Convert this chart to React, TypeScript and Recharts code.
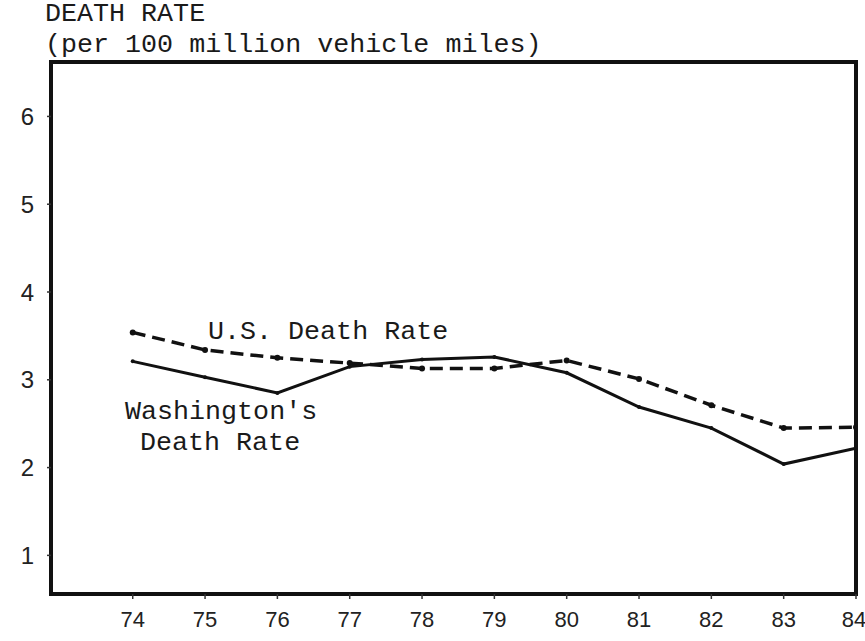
import React from "react"
import {
  LineChart,
  Line,
  XAxis,
  YAxis,
  ReferenceArea,
} from "recharts"

const years = [74, 75, 76, 77, 78, 79, 80, 81, 82, 83, 84]
const washingtonRate = [3.21, 3.03, 2.85, 3.15, 3.23, 3.26, 3.08, 2.69, 2.45, 2.04, 2.22]
const usRate = [3.54, 3.34, 3.25, 3.19, 3.13, 3.13, 3.22, 3.01, 2.71, 2.45, 2.46]
const yTicks = [1, 2, 3, 4, 5, 6]

const xMin = 72.87
const xMax = 84
const yMin = 0.56
const yMax = 6.62

const data = years.map((y, i) => ({
  year: y,
  wa: washingtonRate[i],
  us: usRate[i],
}))

const mono = "'Liberation Mono', 'DejaVu Sans Mono', monospace"
const sans = "'Liberation Sans', Arial, sans-serif"

// text block; lineHeight 30.5 puts the first baseline ~22px under the top
const note = (baseline: number, left: number): React.CSSProperties => ({
  position: "absolute",
  top: baseline - 22,
  left,
  fontFamily: mono,
  fontSize: 26.7,
  lineHeight: "30.5px",
  color: "#1a1a1a",
  whiteSpace: "nowrap",
})

export default function App() {
  return (
    <div style={{ position: "absolute", left: 0, top: 0, width: 865, height: 641, background: "#fff" }}>
      <LineChart
        width={865}
        height={641}
        data={data}
        margin={{ top: 62, right: 9, bottom: 0, left: 0 }}
      >
        <XAxis
          dataKey="year"
          type="number"
          domain={[xMin, xMax]}
          ticks={years}
          allowDataOverflow
          height={47}
          axisLine={false}
          tickLine={{ stroke: "#333", strokeWidth: 1.5 }}
          tickSize={5}
          tickMargin={12}
          tick={{ fontSize: 22, fill: "#222", fontFamily: sans }}
        />
        <YAxis
          type="number"
          domain={[yMin, yMax]}
          ticks={yTicks}
          allowDataOverflow
          width={51}
          axisLine={false}
          tickLine={{ stroke: "#333", strokeWidth: 1.5 }}
          tickSize={4}
          tickMargin={13}
          tick={{ fontSize: 24, fill: "#222", fontFamily: sans }}
        />
        <ReferenceArea
          x1={xMin}
          x2={xMax}
          y1={yMin}
          y2={yMax}
          fill="none"
          stroke="#111"
          strokeWidth={4}
          ifOverflow="visible"
        />
        <Line
          dataKey="us"
          stroke="#111"
          strokeWidth={3.5}
          strokeDasharray="13 7"
          dot={{ r: 3, fill: "#111", stroke: "none" }}
          isAnimationActive={false}
        />
        <Line
          dataKey="wa"
          stroke="#111"
          strokeWidth={3}
          dot={{ r: 2, fill: "#111", stroke: "none" }}
          isAnimationActive={false}
        />
      </LineChart>
      <div style={note(21, 45)}>
        DEATH RATE
        <br />
        (per 100 million vehicle miles)
      </div>
      <div style={note(339, 208)}>U.S. Death Rate</div>
      <div style={note(419, 125)}>
        Washington's
        <br />
        <span style={{ marginLeft: 15 }}>Death Rate</span>
      </div>
    </div>
  )
}
